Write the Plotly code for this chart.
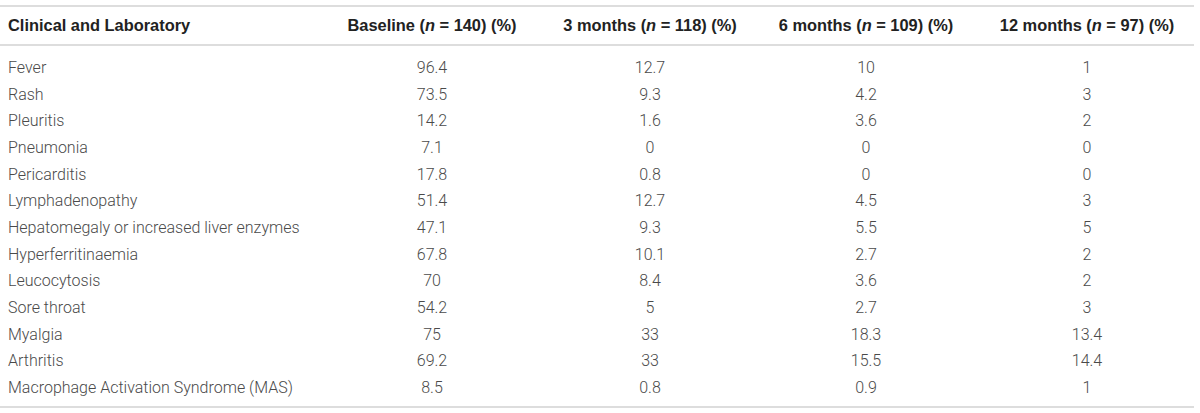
import plotly.graph_objects as go

# Table content
features = [
    "Fever", "Rash", "Pleuritis", "Pneumonia", "Pericarditis", "Lymphadenopathy",
    "Hepatomegaly or increased liver enzymes", "Hyperferritinaemia", "Leucocytosis",
    "Sore throat", "Myalgia", "Arthritis", "Macrophage Activation Syndrome (MAS)",
]
baseline = [96.4, 73.5, 14.2, 7.1, 17.8, 51.4, 47.1, 67.8, 70, 54.2, 75, 69.2, 8.5]
month_3 = [12.7, 9.3, 1.6, 0, 0.8, 12.7, 9.3, 10.1, 8.4, 5, 33, 33, 0.8]
month_6 = [10, 4.2, 3.6, 0, 0, 4.5, 5.5, 2.7, 3.6, 2.7, 18.3, 15.5, 0.9]
month_12 = [1, 3, 2, 0, 0, 3, 5, 2, 2, 3, 13.4, 14.4, 1]

headers = [
    "Clinical and Laboratory",
    "Baseline (<i>n</i> = 140) (%)",
    "3 months (<i>n</i> = 118) (%)",
    "6 months (<i>n</i> = 109) (%)",
    "12 months (<i>n</i> = 97) (%)",
]

def fmt(values):
    return [f"{v:g}" for v in values]

W, H = 1200, 413
rule = "#dddddd"
clear = "rgba(0,0,0,0)"

fig = go.Figure(go.Table(
    domain=dict(x=[0, 1], y=[0, 1 - 8 / H]),
    columnwidth=[322, 220, 216, 216, 226],
    header=dict(
        values=[f"<b>{h}</b>" for h in headers],
        align=["left", "center", "center", "center", "center"],
        font=dict(family="Liberation Sans, Arial", size=16.4, color="#222222"),
        fill_color=clear,
        line_color=clear,
        height=45,
    ),
    cells=dict(
        values=[features, fmt(baseline), fmt(month_3), fmt(month_6), fmt(month_12)],
        align=["left", "center", "center", "center", "center"],
        font=dict(family="Roboto", size=16, color="#4a4a4a", weight=300),
        fill_color=clear,
        line_color=clear,
        height=26.67,
    ),
))

# Horizontal rules: top, under header, bottom
for y in [6, 45, 407]:
    fig.add_shape(type="line", xref="paper", yref="paper",
                  x0=0, x1=1194 / W, y0=1 - y / H, y1=1 - y / H,
                  line=dict(color=rule, width=2))

fig.update_layout(
    width=W, height=H,
    margin=dict(l=0, r=0, t=0, b=0),
    paper_bgcolor="white",
)

# drop the page's default 8px body margin so the figure sits at the window corner
fig.write_html(
    "out.html",
    config={"displayModeBar": False},
    post_script="document.body.style.margin='0px';",
)
